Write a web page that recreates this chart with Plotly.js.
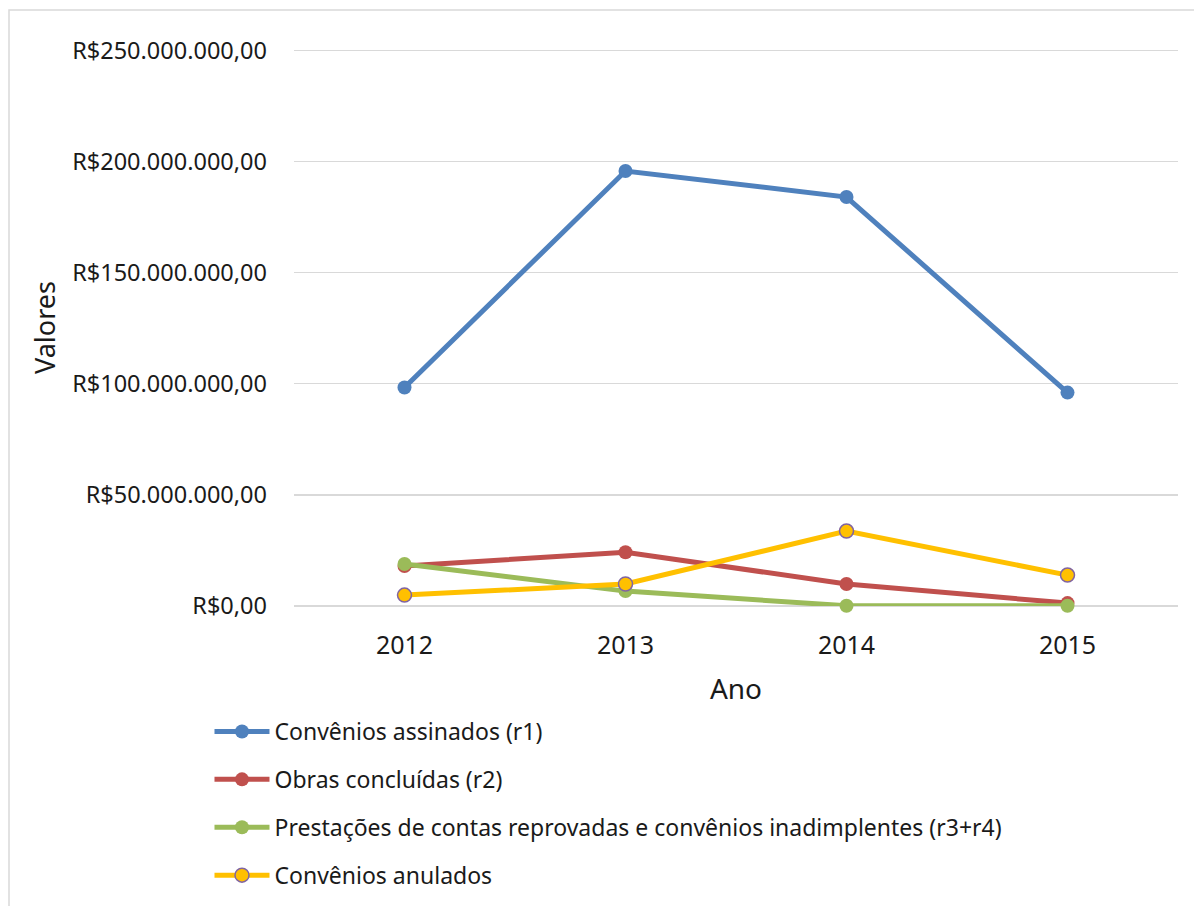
<!DOCTYPE html>
<html>
<head>
<meta charset="utf-8">
<script src="https://cdn.plot.ly/plotly-3.0.1.min.js"></script>
<style>
html,body{margin:0;padding:0;background:#fff;}
#chart{width:1194px;height:906px;}
</style>
</head>
<body>
<div id="chart"></div>
<script>
const years = ["2012", "2013", "2014", "2015"];
const conveniosAssinados = [98300000, 195700000, 184000000, 96000000];
const obrasConcluidas = [18000000, 24200000, 9900000, 1300000];
const prestacoesReprovadas = [18900000, 6700000, 100000, 100000];
const conveniosAnulados = [4900000, 9900000, 33700000, 13900000];
const yTickVals = [0, 50000000, 100000000, 150000000, 200000000, 250000000];
const yTickText = ["R$0,00", "R$50.000.000,00", "R$100.000.000,00", "R$150.000.000,00", "R$200.000.000,00", "R$250.000.000,00"];

const FONT = "Noto Sans, Open Sans, sans-serif";
const TXT = "#1a1a1a";

function tr(name, y, color, markerLine, group) {
  return {
    type: "scatter", mode: "lines+markers", x: years, y: y, name: name,
    legendgroup: group,
    line: {color: color, width: 5},
    marker: {color: color, size: 14, line: markerLine ? {color: markerLine, width: 1.5} : {width: 0}},
    cliponaxis: false
  };
}

const data = [
  tr("Convênios assinados (r1)", conveniosAssinados, "#4F81BD", null, "g1"),
  tr("Obras concluídas (r2)", obrasConcluidas, "#C0504D", null, "g2"),
  tr("Prestações de contas reprovadas e convênios inadimplentes (r3+r4)", prestacoesReprovadas, "#9BBB59", null, "g3"),
  tr("Convênios anulados", conveniosAnulados, "#FFC000", "#8064A2", "g4")
];

const layout = {
  width: 1194, height: 906,
  margin: {l: 294, r: 16, t: 49, b: 300, autoexpand: false},
  paper_bgcolor: "#fff", plot_bgcolor: "#fff",
  font: {family: FONT, color: TXT, size: 23},
  showlegend: true,
  xaxis: {
    type: "category", range: [-0.5, 3.5], automargin: false,
    showgrid: false, zeroline: false, showline: false, ticks: "",
    tickangle: 0,
    tickfont: {size: 25, color: TXT},
    ticklabelstandoff: 22,
    title: {text: "Ano", font: {size: 28, color: TXT}, standoff: 19}
  },
  yaxis: {
    range: [0, 250600000], automargin: false,
    tickvals: yTickVals, ticktext: yTickText,
    showgrid: true, gridcolor: "#d9d9d9", gridwidth: 1.5,
    zeroline: true, zerolinecolor: "#d9d9d9", zerolinewidth: 1.5,
    showline: false, ticks: "",
    tickfont: {size: 23.5, color: TXT},
    ticklabelstandoff: 26,
    title: {text: "Valores", font: {size: 27, color: TXT}, standoff: 8}
  },
  legend: {
    orientation: "v",
    x: -0.0956, xanchor: "left",
    y: -0.1867, yanchor: "top",
    font: {size: 23, color: TXT},
    tracegroupgap: 15,
    itemwidth: 55,
    bgcolor: "rgba(0,0,0,0)"
  },
  shapes: [{
    type: "rect", xref: "paper", yref: "paper",
    x0: -0.3224, x1: 1.03, y0: -0.56, y1: 1.070,
    line: {color: "#d9d9d9", width: 1.5}, fillcolor: "rgba(0,0,0,0)", layer: "below"
  }]
};

Plotly.newPlot("chart", data, layout, {displayModeBar: false, staticPlot: true});
</script>
</body>
</html>
